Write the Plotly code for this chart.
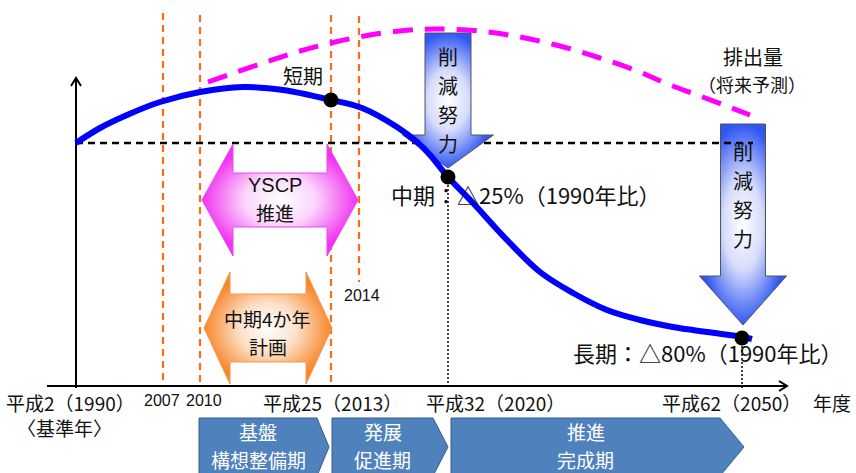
import plotly.graph_objects as go

# ---------------- data (schematic, in picture units) ----------------
# actual / target emission path (blue)
path_x = [76, 100, 127, 160, 200, 243, 283, 331, 362, 397, 417, 430, 448, 473, 507, 540, 573, 607, 640, 673, 707, 743, 752]
path_y = [143, 128, 115, 102, 92, 87, 90, 100, 108, 127, 142, 155, 177, 203, 240, 272, 293, 310, 320, 327, 332, 337, 339]
# forecast emissions (magenta dashed)
fc_x = [208, 260, 300, 331, 370, 410, 440, 480, 520, 560, 600, 640, 665, 700, 750]
fc_y = [82, 64, 51, 43, 35, 30, 29, 31, 37, 46, 58, 72, 83, 96, 115]
# milestones (short / mid / long term)
ms_x = [331, 448, 742]
ms_y = [100, 177, 338]
# orange year guide lines: x, top, bottom
year_x = [163, 200, 331, 359]
year_top = [13, 15, 15, 16]
year_bot = [386, 386, 386, 282]
# base-year level
base_y = 143
base_x0, base_x1 = 76, 753
# axis
ax_origin = (76, 386)
ax_xend, ax_yend, ax_xstart = 787, 78, 47

# tick / period labels
tick_labels = ["平成2（1990）", "平成25（2013）", "平成32（2020）", "平成62（2050）"]
tick_pos = [70, 332, 495, 731]
small_years = ["2007", "2010", "2014"]
small_pos = [(162, 400), (204, 400), (362, 295)]
phases = [("基盤", "構想整備期"), ("発展", "促進期"), ("推進", "完成期")]
phase_geo = [(199, 317, 329), (332, 433, 448), (451, 720, 744)]
effort_text = "削減努力"

FONT = "Noto Sans CJK JP"
ORANGE = "#FF6A13"

fig = go.Figure()

def add_line(xs, ys, color, width, dash="solid"):
    fig.add_trace(go.Scatter(x=xs, y=ys, mode="lines", hoverinfo="skip",
                             line=dict(color=color, width=width, dash=dash)))

def add_poly(xs, ys, edge, width, cs, fillcolor=None):
    xs = list(xs) + [xs[0]]
    ys = list(ys) + [ys[0]]
    kw = {}
    if cs is not None:
        kw["fillgradient"] = dict(type="radial", colorscale=cs)
    else:
        kw["fillcolor"] = fillcolor
    fig.add_trace(go.Scatter(x=xs, y=ys, mode="lines", fill="toself", hoverinfo="skip",
                             line=dict(color=edge, width=width), **kw))

# orange year lines
for x, t, b in zip(year_x, year_top, year_bot):
    add_line([x, x], [t, b], ORANGE, 2.2, "7px,5px")

# dotted verticals from milestones to axis
for x, y in zip(ms_x[1:], ms_y[1:]):
    add_line([x, x], [y, 388], "black", 1.5, "2px,2px")

# axes with arrow heads
ox, oy = ax_origin
add_line([ox, ox], [oy + 2, ax_yend], "black", 2)
add_line([ox - 5, ox, ox + 5], [ax_yend + 8, ax_yend, ax_yend + 8], "black", 2)
add_line([ax_xstart, ax_xend], [oy, oy], "black", 2)
add_line([ax_xend - 8, ax_xend, ax_xend - 8], [oy - 5, oy, oy + 5], "black", 2)

blue_cs = [[0, "#ffffff"], [0.45, "#d6dcfb"], [1, "#2f57f2"]]

def down_arrow(cx, sw, top, hy, hw, tip):
    xs = [cx - sw, cx + sw, cx + sw, cx + hw, cx, cx - hw, cx - sw]
    ys = [top, top, hy, hy, tip, hy, hy]
    add_poly(xs, ys, "#555555", 1, blue_cs)

# right reduction arrow
down_arrow(743, 22.5, 124, 276, 43.5, 325)

# base-year dashed line
add_line([base_x0, base_x1], [base_y, base_y], "black", 2.5, "7px,5px")

# forecast curve
fig.add_trace(go.Scatter(x=fc_x, y=fc_y, mode="lines", hoverinfo="skip",
                         line=dict(color="#FF00FF", width=5, dash="20px,12px", shape="spline")))

# left reduction arrow
down_arrow(448, 23, 33, 135, 45.5, 168)

def double_arrow(x0, hb0, hb1, x1, cy, hh, sh, edge, cs):
    xs = [x0, hb0, hb0, hb1, hb1, x1, hb1, hb1, hb0, hb0]
    ys = [cy, cy - hh, cy - sh, cy - sh, cy - hh, cy, cy + hh, cy + sh, cy + sh, cy + hh]
    add_poly(xs, ys, edge, 1, cs)

double_arrow(202, 233, 327, 358, 200, 56, 27, "#EE44EE",
             [[0, "#ffffff"], [0.45, "#fbd6fb"], [1, "#F033F0"]])
double_arrow(204, 230, 306, 332, 328, 56, 34, "#F79646",
             [[0, "#ffffff"], [0.45, "#fde0c8"], [1, "#F7862A"]])

# phase chevrons
for (x0, xb, xt) in phase_geo:
    add_poly([x0, xb, xt, xb, x0], [418, 418, 447, 476, 476], "#385D8A", 1, None, "#4F81BD")

# emission path
fig.add_trace(go.Scatter(x=path_x, y=path_y, mode="lines", hoverinfo="skip",
                         line=dict(color="#0000FF", width=6, shape="spline")))
# milestone dots
fig.add_trace(go.Scatter(x=ms_x, y=ms_y, mode="markers", hoverinfo="skip",
                         marker=dict(color="black", size=15)))

ann = []

def text(x, y, s, size=20, color="#111111", xanchor="center", family=FONT):
    ann.append(dict(x=x, y=y, text=s, showarrow=False, xanchor=xanchor, yanchor="middle",
                    font=dict(family=family, size=size, color=color)))

for s, x in zip(tick_labels, tick_pos):
    text(x, 402, s, 19)
text(64, 427, "〈基準年〉", 19)
text(832, 402, "年度", 19)
for s, (x, y) in zip(small_years, small_pos):
    text(x, y, s, 16, family="Liberation Sans, Arial")
for (l1, l2), (x0, xb, xt) in zip(phases, phase_geo):
    cx = (x0 + xb) / 2
    text(cx, 431, l1, 19, "white")
    text(cx, 459, l2, 19, "white")
text(303, 75, "短期", 20)
text(389, 194, "中期：△25%（1990年比）", 22, xanchor="left")
text(571, 352, "長期：△80%（1990年比）", 22, xanchor="left")
text(753, 56, "排出量", 20)
text(752, 84, "（将来予測）", 18)
text(275, 185, "YSCP", 20, family="Liberation Sans, Arial")
text(275, 212, "推進", 19)
text(267, 318, "中期4か年", 19)
text(268, 346, "計画", 19)
for i, ch in enumerate(effort_text):
    text(448, 56 + 29 * i, ch, 20)
    text(743, 151 + 29 * i, ch, 20)

fig.update_layout(
    width=856, height=473, margin=dict(l=0, r=0, t=0, b=0),
    paper_bgcolor="white", plot_bgcolor="white", showlegend=False,
    xaxis=dict(range=[0, 856], visible=False, fixedrange=True),
    yaxis=dict(range=[473, 0], visible=False, fixedrange=True),
    annotations=ann,
)
fig.write_html("out.html", config={"displayModeBar": False},
               post_script="document.body.style.margin='0';document.body.style.overflow='hidden';")
